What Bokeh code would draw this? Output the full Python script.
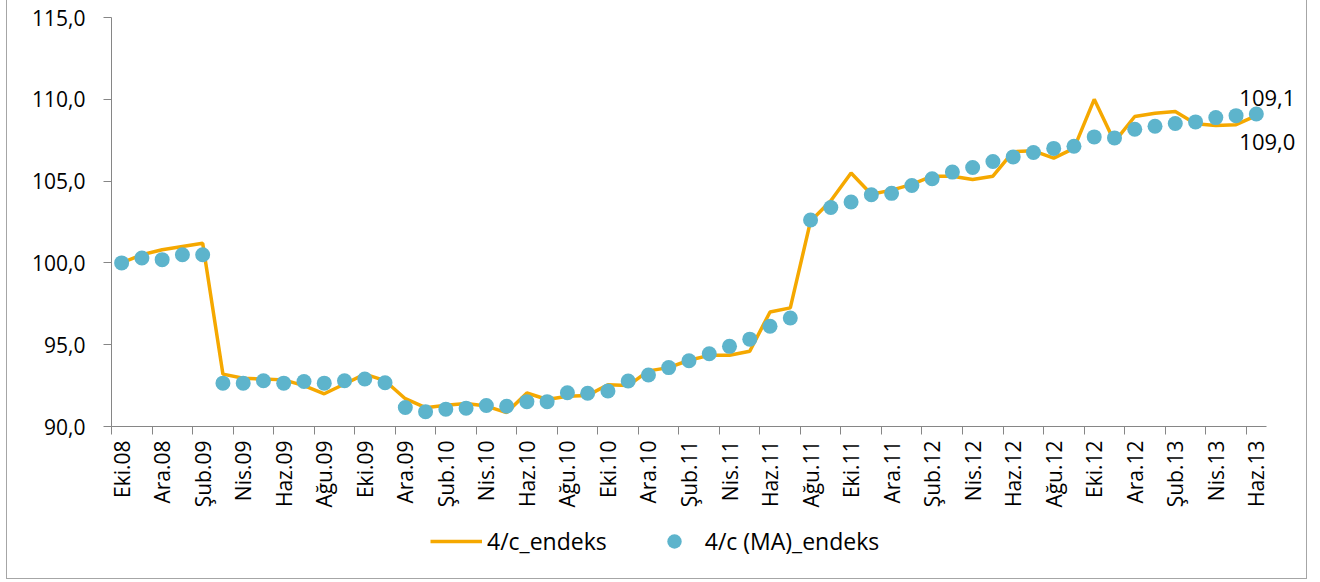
import numpy as np
from bokeh.plotting import figure
from bokeh.layouts import column
from bokeh.models import FixedTicker, Legend, LegendItem, ColumnDataSource, Range1d
from bokeh.embed import file_html
from bokeh.resources import INLINE
from bokeh.core.properties import value

months = ["Eki.08", "Kas.08", "Ara.08", "Oca.09", "Şub.09", "Mar.09", "Nis.09", "May.09",
          "Haz.09", "Tem.09", "Ağu.09", "Eyl.09", "Eki.09", "Kas.09", "Ara.09", "Oca.10",
          "Şub.10", "Mar.10", "Nis.10", "May.10", "Haz.10", "Tem.10", "Ağu.10", "Eyl.10",
          "Eki.10", "Kas.10", "Ara.10", "Oca.11", "Şub.11", "Mar.11", "Nis.11", "May.11",
          "Haz.11", "Tem.11", "Ağu.11", "Eyl.11", "Eki.11", "Kas.11", "Ara.11", "Oca.12",
          "Şub.12", "Mar.12", "Nis.12", "May.12", "Haz.12", "Tem.12", "Ağu.12", "Eyl.12",
          "Eki.12", "Kas.12", "Ara.12", "Oca.13", "Şub.13", "Mar.13", "Nis.13", "May.13",
          "Haz.13"]

endeks = [100.0, 100.5, 100.8, 101.0, 101.2, 93.2, 92.95, 92.9, 92.85, 92.5,
          92.0, 92.6, 93.2, 92.8, 91.7, 91.15, 91.3, 91.4, 91.25, 90.85,
          92.05, 91.65, 91.85, 91.9, 92.55, 92.5, 93.4, 93.6, 94.05, 94.35,
          94.35, 94.6, 97.0, 97.25, 102.55, 103.8, 105.5, 104.2, 104.45, 104.8,
          105.3, 105.3, 105.1, 105.3, 106.8, 106.85, 106.4, 107.0, 110.0, 107.4,
          108.95, 109.15, 109.25, 108.5, 108.4, 108.45, 109.0]

ma_endeks = [100.0, 100.3, 100.2, 100.5, 100.5, 92.65, 92.65, 92.8, 92.65, 92.75,
             92.65, 92.8, 92.9, 92.67, 91.16, 90.9, 91.06, 91.12, 91.28, 91.24,
             91.52, 91.52, 92.06, 92.03, 92.17, 92.78, 93.15, 93.6, 94.02, 94.45,
             94.9, 95.34, 96.13, 96.63, 102.62, 103.39, 103.72, 104.17, 104.25, 104.73,
             105.14, 105.55, 105.83, 106.2, 106.48, 106.75, 107.0, 107.13, 107.7, 107.64,
             108.17, 108.35, 108.52, 108.62, 108.88, 109.0, 109.1]

y_ticks = [90, 95, 100, 105, 110, 115]
series_names = ["4/c_endeks", "4/c (MA)_endeks"]

FONT = "Open Sans"
FS = "21px"
AXIS_COLOR = "#868686"
LINE_COLOR = "#F5A800"
DOT_COLOR = "#5DB4CC"
BORDER = "1px solid #a6a6a6"

x = list(range(len(months)))
n = len(months)

W = 1299
H_MAIN = 516
H_LEG = 62
# extra room on the right of the last category for the end-value labels
X_END = n - 0.5 + 1.68

p = figure(width=W, height=H_MAIN,
           x_range=Range1d(-0.5, X_END), y_range=Range1d(y_ticks[0], y_ticks[-1]),
           output_backend="svg", toolbar_location=None,
           min_border_left=104, min_border_right=6, min_border_top=17, min_border_bottom=90)
p.background_fill_color = "white"
p.border_fill_color = "white"
p.outline_line_color = None
p.xgrid.visible = False
p.ygrid.visible = False

# y axis
p.yaxis.ticker = FixedTicker(ticks=y_ticks)
p.yaxis.major_label_overrides = {t: f"{t:.1f}".replace(".", ",") for t in y_ticks}
p.yaxis.axis_line_color = AXIS_COLOR
p.yaxis.major_tick_line_color = AXIS_COLOR
p.yaxis.major_tick_out = 8
p.yaxis.major_tick_in = 0
p.yaxis.minor_tick_line_color = None
p.yaxis.major_label_standoff = 18
p.yaxis.major_label_text_font = FONT
p.yaxis.major_label_text_font_size = FS
p.yaxis.major_label_text_color = "black"

# x axis: labels at every other month, tick marks at category boundaries
label_pos = x[::2]
p.xaxis.ticker = FixedTicker(ticks=label_pos, minor_ticks=[i - 0.5 for i in label_pos])
p.xaxis.bounds = (-0.5, n - 0.5)
p.xaxis.major_label_overrides = {i: months[i] for i in label_pos}
p.xaxis.major_label_orientation = np.pi / 2
p.xaxis.axis_line_color = AXIS_COLOR
p.xaxis.major_tick_out = 0
p.xaxis.major_tick_in = 0
p.xaxis.minor_tick_out = 8
p.xaxis.minor_tick_in = 0
p.xaxis.minor_tick_line_color = AXIS_COLOR
p.xaxis.major_label_standoff = 6
p.xaxis.major_label_text_font = FONT
p.xaxis.major_label_text_font_size = FS
p.xaxis.major_label_text_color = "black"

src = ColumnDataSource(dict(x=x, endeks=endeks, ma=ma_endeks))
p.line("x", "endeks", source=src, line_color=LINE_COLOR, line_width=3.5)
p.scatter("x", "ma", source=src, size=15, fill_color=DOT_COLOR, line_color=None)

# end value labels
lbl = ColumnDataSource(dict(
    x=[x[-1], x[-1]],
    y=[ma_endeks[-1], endeks[-1]],
    t=[f"{ma_endeks[-1]:.1f}".replace(".", ","), f"{endeks[-1]:.1f}".replace(".", ",")],
    dy=[-16, 26],
))
p.text("x", "y", text="t", source=lbl, x_offset=11, y_offset="dy",
       text_align="center", text_baseline="middle",
       text_font=value(FONT), text_font_size="22px", text_color="black")

# legend strip below the chart (its frame is aligned with the chart frame)
leg = figure(width=W, height=H_LEG, x_axis_type=None, y_axis_type=None,
             x_range=Range1d(-1000, -999), y_range=Range1d(-1000, -999),
             output_backend="svg", toolbar_location=None,
             min_border_left=0, min_border_right=0, min_border_top=0, min_border_bottom=0)
leg.outline_line_color = None
leg.background_fill_color = "white"
leg.border_fill_color = "white"
l_line = leg.line("x", "endeks", source=src, line_color=LINE_COLOR, line_width=3.5)
l_dot = leg.scatter("x", "ma", source=src, size=15, fill_color=DOT_COLOR, line_color=None)

legend = Legend(items=[LegendItem(label=series_names[0], renderers=[l_line]),
                       LegendItem(label=series_names[1], renderers=[l_dot])],
                orientation="horizontal", location=(319, 19),
                glyph_width=52, glyph_height=36, label_standoff=5, spacing=41,
                padding=0, margin=0, border_line_color=None, background_fill_alpha=0,
                label_text_font=FONT, label_text_font_size="23px", label_text_color="black")
leg.add_layout(legend)

layout = column(p, leg, spacing=0,
                styles={"margin-left": "6px", "border-left": BORDER,
                        "border-right": BORDER, "border-bottom": BORDER})

open("out.html", "w").write(file_html(layout, INLINE))
